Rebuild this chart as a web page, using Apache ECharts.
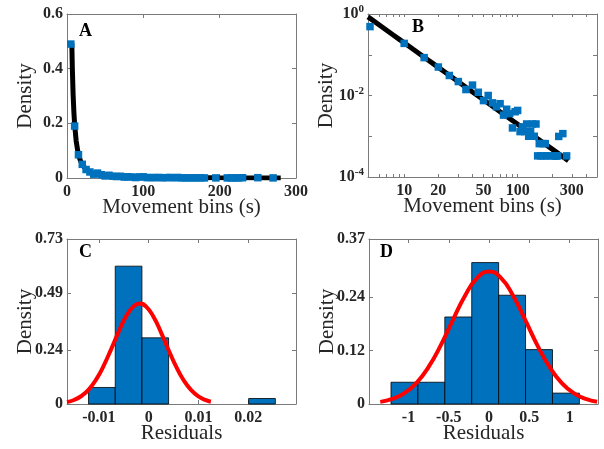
<!DOCTYPE html>
<html><head><meta charset="utf-8">
<script src="https://cdn.jsdelivr.net/npm/echarts@6/dist/echarts.min.js"></script>
<style>html,body{margin:0;padding:0;background:#fff}#c{width:604px;height:449px}</style>
</head><body><div id="c"></div>
<script>
// ---- Panels A / B : movement-bin densities and power-law fit ----
const binX = [5,10,15,20,25,30,35,40,45,50,55,60,65,70,75,80,85,90,95,100,105,110,115,120,125,130,135,140,145,150,155,160,165,170,175,180,195,210,215,220,225,230,250,270];
const binDensity = [0.49,0.19,0.085,0.05,0.031,0.022,0.014,0.018,0.012,0.0075,0.010,0.0066,0.0053,0.0063,0.0033,0.0046,0.0036,0.0016,0.0040,0.0043,0.0013,0.0017,0.0013,0.0020,0.0010,0.0013,0.0020,0.0010,0.0020,0.00033,0.00066,0.00033,0.00066,0.00033,0.00066,0.00033,0.00033,0.00033,0.00033,0.00033,0.00033,0.00099,0.00116,0.00033];
const fitX = [4.8,6.3,7,8,9,10,12,14,16,18,20,25,30,35,40,50,70,100,150,200,280];
const fitY = [0.85,0.494,0.400,0.306,0.242,0.196,0.136,0.100,0.0766,0.0605,0.049,0.0314,0.0218,0.016,0.01225,0.00784,0.0040,0.00196,0.00087,0.00049,0.00025];
const aXTicks = [0,100,200,300];
const aYTicks = [0,0.2,0.4,0.6];
const bXTicks = [10,20,50,100,300];
const bXMinor = [6,7,8,9,10,20,30,40,50,60,70,80,90,100,200,300,400];
const bYTicks = [0.0001,0.01,1];
const bYMinor = [0.0001,0.001,0.01,0.1,1];

// ---- Panel C : residual histogram + normal fit ----
const cEdges = [-0.01207,-0.00671,-0.00135,0.00401,0.00937,0.01473,0.02009,0.02545];
const cDensity = [0.0732,0.6098,0.2927,0,0,0,0.0244];
const cCurveX = [-0.0164,-0.015,-0.0135,-0.012,-0.0105,-0.009,-0.0075,-0.006,-0.0045,-0.003,-0.0018,-0.0005,0.001,0.0025,0.004,0.0055,0.007,0.0085,0.01,0.0115,0.0125];
const cCurveY = [0.0087,0.0178,0.0354,0.065,0.110,0.171,0.244,0.321,0.389,0.433,0.445,0.431,0.385,0.316,0.239,0.166,0.106,0.0626,0.0339,0.0169,0.0101];
const cXTicks = [-0.01,0,0.01,0.02];
const cYTicks = [0,0.24,0.49,0.73];

// ---- Panel D : residual histogram + normal fit ----
const dEdges = [-1.217,-0.883,-0.549,-0.215,0.119,0.453,0.787,1.121];
const dDensity = [0.0488,0.0488,0.1951,0.3171,0.2439,0.1220,0.0244];
const dCurveX = [-1.35,-1.2,-1.05,-0.9,-0.75,-0.6,-0.45,-0.3,-0.15,0,0.15,0.3,0.45,0.6,0.75,0.9,1.05,1.2,1.34];
const dCurveY = [0.0048,0.0114,0.0245,0.0475,0.0832,0.1315,0.1879,0.2423,0.2823,0.297,0.2823,0.2423,0.1879,0.1315,0.0832,0.0475,0.0245,0.0114,0.0051];
const dXTicks = [-1,-0.5,0,0.5,1];
const dYTicks = [0,0.12,0.24,0.37];

const FONT = '"Liberation Serif","Times New Roman",serif';
const LINE = '#7a7a7a';
const TXT = '#262626';
const BLUE = '#0072BD';

function axis(grid, pos, cfg) {
  const mirror = pos === 'top' || pos === 'right';
  const isX = pos === 'top' || pos === 'bottom';
  const a = {
    type: cfg.type || 'value', gridIndex: grid, position: pos,
    min: cfg.min, max: cfg.max,
    axisLine: {show: true, onZero: false, lineStyle: {color: LINE, width: 1}},
    axisTick: {show: true, inside: true, length: cfg.tickLen || 4, lineStyle: {color: LINE, width: 1}, customValues: cfg.tickValues || cfg.labels},
    axisLabel: {show: !mirror, customValues: cfg.labels, color: TXT, fontFamily: FONT, fontWeight: 'bold', fontSize: 16, margin: isX ? 6 : 4},
    splitLine: {show: false}, minorTick: {show: false}, minorSplitLine: {show: false},
    nameMoveOverlap: false
  };
  if (cfg.formatter) a.axisLabel.formatter = cfg.formatter;
  if (cfg.rich) a.axisLabel.rich = cfg.rich;
  if (!mirror && cfg.name) {
    a.name = cfg.name; a.nameLocation = 'middle'; a.nameGap = isX ? 19 : 31;
    a.nameTextStyle = {fontFamily: FONT, fontSize: 21, color: TXT};
  }
  return a;
}

const supRich = {
  b: {fontFamily: FONT, fontWeight: 'bold', fontSize: 16, color: TXT, lineHeight: 20},
  s: {fontFamily: FONT, fontWeight: 'bold', fontSize: 11, color: TXT, lineHeight: 10, verticalAlign: 'top'}
};
const supFmt = v => '{b|10}{s|' + Math.round(Math.log10(v)) + '}';

const aX = {min: 0, max: 300, labels: aXTicks, name: 'Movement bins (s)'};
const aY = {min: 0, max: 0.6, labels: aYTicks, name: 'Density'};
const bX = {type: 'log', min: 4.8, max: 500, labels: bXTicks, tickValues: bXMinor, tickLen: 3, name: 'Movement bins (s)', formatter: v => String(Math.round(v))};
const bY = {type: 'log', min: 0.0001, max: 1, labels: bYTicks, tickValues: bYMinor, name: 'Density', formatter: supFmt, rich: supRich};
const cX = {min: -0.0164, max: 0.0296, labels: cXTicks, name: 'Residuals', formatter: v => String(v)};
const cY = {min: 0, max: 0.73, labels: cYTicks, name: 'Density', formatter: v => String(v)};
const dX = {min: -1.49, max: 1.352, labels: dXTicks, name: 'Residuals', formatter: v => String(v)};
const dY = {min: 0, max: 0.37, labels: dYTicks, name: 'Density', formatter: v => String(v)};

function histItem(params, api) {
  const x0 = api.value(0), x1 = api.value(1), h = api.value(2);
  if (!(h > 0)) return null;
  const p0 = api.coord([x0, h]), p1 = api.coord([x1, 0]);
  return {type: 'rect', shape: {x: p0[0], y: p0[1], width: p1[0] - p0[0], height: p1[1] - p0[1]},
    style: {fill: BLUE, stroke: '#000', lineWidth: 0.8}};
}
const histData = (edges, dens) => dens.map((v, i) => [edges[i], edges[i + 1], v]);
const zip = (xs, ys) => xs.map((x, i) => [x, ys[i]]);

const points = zip(binX, binDensity);
const fitPts = zip(fitX, fitY);

const option = {
  animation: false,
  backgroundColor: '#fff',
  grid: [
    {left: 67, top: 14, width: 229, height: 164, containLabel: false, outerBoundsMode: 'none'},
    {left: 368, top: 14, width: 229, height: 163, containLabel: false, outerBoundsMode: 'none'},
    {left: 67, top: 239, width: 229, height: 165, containLabel: false, outerBoundsMode: 'none'},
    {left: 369, top: 239, width: 229, height: 165, containLabel: false, outerBoundsMode: 'none'}
  ],
  xAxis: [
    axis(0, 'bottom', aX), axis(0, 'top', aX),
    axis(1, 'bottom', bX), axis(1, 'top', bX),
    axis(2, 'bottom', cX), axis(2, 'top', cX),
    axis(3, 'bottom', dX), axis(3, 'top', dX)
  ],
  yAxis: [
    axis(0, 'left', aY), axis(0, 'right', aY),
    axis(1, 'left', bY), axis(1, 'right', bY),
    axis(2, 'left', cY), axis(2, 'right', cY),
    axis(3, 'left', dY), axis(3, 'right', dY)
  ],
  series: [
    {type: 'line', xAxisIndex: 0, yAxisIndex: 0, data: fitPts.filter(p => p[1] <= aY.max), showSymbol: false, symbol: 'none',
      lineStyle: {color: '#000', width: 5}, z: 2},
    {type: 'scatter', xAxisIndex: 0, yAxisIndex: 0, data: points, symbol: 'rect', symbolSize: 7.5,
      itemStyle: {color: BLUE, opacity: 1}, z: 3},
    {type: 'line', xAxisIndex: 2, yAxisIndex: 2, data: fitPts, showSymbol: false, symbol: 'none',
      lineStyle: {color: '#000', width: 5}, z: 2},
    {type: 'scatter', xAxisIndex: 2, yAxisIndex: 2, data: points, symbol: 'rect', symbolSize: 7.5,
      itemStyle: {color: BLUE, opacity: 1}, z: 3},
    {type: 'custom', xAxisIndex: 4, yAxisIndex: 4, renderItem: histItem, data: histData(cEdges, cDensity),
      encode: {x: [0, 1], y: 2}, z: 2},
    {type: 'line', xAxisIndex: 4, yAxisIndex: 4, data: zip(cCurveX, cCurveY), smooth: true, showSymbol: false, symbol: 'none',
      lineStyle: {color: '#ff0000', width: 4}, z: 3},
    {type: 'custom', xAxisIndex: 6, yAxisIndex: 6, renderItem: histItem, data: histData(dEdges, dDensity),
      encode: {x: [0, 1], y: 2}, z: 2},
    {type: 'line', xAxisIndex: 6, yAxisIndex: 6, data: zip(dCurveX, dCurveY), smooth: true, showSymbol: false, symbol: 'none',
      lineStyle: {color: '#ff0000', width: 4}, z: 3}
  ],
  graphic: [
    {type: 'text', left: 79, top: 22, style: {text: 'A', font: 'bold 18px ' + FONT, fill: '#000'}},
    {type: 'text', left: 412, top: 18, style: {text: 'B', font: 'bold 18px ' + FONT, fill: '#000'}},
    {type: 'text', left: 79, top: 243, style: {text: 'C', font: 'bold 18px ' + FONT, fill: '#000'}},
    {type: 'text', left: 380, top: 243, style: {text: 'D', font: 'bold 18px ' + FONT, fill: '#000'}}
  ]
};
const chart = echarts.init(document.getElementById('c'), null, {renderer: 'canvas'});
chart.setOption(option);
</script></body></html>
